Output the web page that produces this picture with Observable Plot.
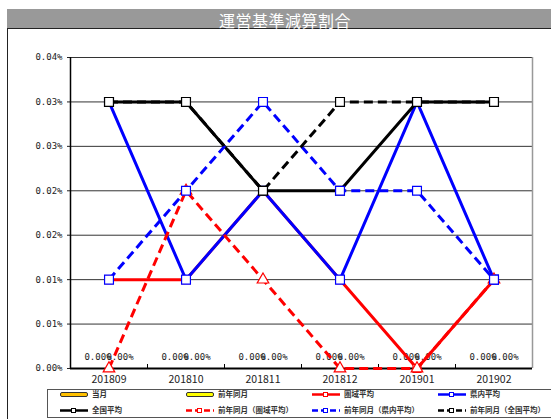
<!DOCTYPE html>
<html><head><meta charset="utf-8">
<script src="https://cdn.jsdelivr.net/npm/d3@7"></script>
<script src="https://cdn.jsdelivr.net/npm/@observablehq/plot@0.6"></script>
<style>
body{margin:0;background:#fff;}
#wrap{position:relative;width:551px;height:419px;overflow:hidden;background:#fff;font-family:"Noto Sans CJK JP",sans-serif;}
#titlebar{position:absolute;left:7px;top:9px;width:560px;height:19px;background:#999;}
#title{position:absolute;left:0;width:570px;top:11px;text-align:center;color:#fff;font-size:16px;letter-spacing:0.5px;line-height:18px;z-index:3;}
#frame{position:absolute;left:7px;top:28px;width:600px;height:420px;border:1px solid #222;box-sizing:border-box;}
#chart{position:absolute;left:0;top:40px;}
#legend{position:absolute;left:47px;top:389px;width:560px;height:29px;border:1.5px solid #555;background:#fff;box-sizing:border-box;z-index:2;}
.item{position:absolute;height:12px;z-index:4;}
.item svg{position:absolute;left:0;top:1px;}
.item span{position:absolute;top:-1px;font-size:7.5px;font-weight:bold;color:#333;white-space:nowrap;line-height:12px;}
</style>
</head><body>
<div id="wrap">
  <div id="titlebar"></div>
  <div id="frame"></div>
  <div id="title"></div>
  <div id="chart"></div>
  <div id="legend"></div>
</div>
<script>
// ---- data ----
const chartTitle = "運営基準減算割合";
const categories = ["201809", "201810", "201811", "201812", "201901", "201902"];
// values in percent units (0.03 = 0.03%)
const touGetsu        = [0, 0, 0, 0, 0, 0];            // 当月 (bars)
const zenenDougetsu   = [0, 0, 0, 0, 0, 0];            // 前年同月 (bars)
const kenikiAvg       = [0.01, 0.01, 0.02, 0.01, 0, 0.01];   // 圏域平均
const kennaiAvg       = [0.03, 0.01, 0.02, 0.01, 0.03, 0.01]; // 県内平均
const zenkokuAvg      = [0.03, 0.03, 0.02, 0.02, 0.03, 0.03]; // 全国平均
const prevKenikiAvg   = [0, 0.02, 0.01, 0, 0, 0.01];     // 前年同月(圏域平均)
const prevKennaiAvg   = [0.01, 0.02, 0.03, 0.02, 0.02, 0.01]; // 前年同月(県内平均)
const prevZenkokuAvg  = [0.03, 0.03, 0.02, 0.03, 0.03, 0.03]; // 前年同月(全国平均)
const yTicks      = [0, 0.005, 0.01, 0.015, 0.02, 0.025, 0.03, 0.035];
const yTickLabels = ["0.00%", "0.01%", "0.01%", "0.02%", "0.02%", "0.03%", "0.03%", "0.04%"];
const barLabels = ["0.00%", "0.00%", "0.00%", "0.00%", "0.00%", "0.00%"];

const legendItems = [
  {name: "当月", kind: "bar", color: "#FFC000"},
  {name: "前年同月", kind: "bar", color: "#FFFF00"},
  {name: "圏域平均", kind: "line", color: "#FF0000", dash: null},
  {name: "県内平均", kind: "line", color: "#0000FF", dash: null},
  {name: "全国平均", kind: "line", color: "#000000", dash: null},
  {name: "前年同月（圏域平均）", kind: "line", color: "#FF0000", dash: "6,3"},
  {name: "前年同月（県内平均）", kind: "line", color: "#0000FF", dash: "6,3"},
  {name: "前年同月（全国平均）", kind: "line", color: "#000000", dash: "6,3"}
];

document.getElementById("title").textContent = chartTitle;

const rows = arr => arr.map((v, i) => ({i, v}));
const idx = categories.map((c, i) => i);
const bounds = [-0.5, ...idx.map(i => i + 0.5)];

function series(arr, color, dash, symbol, r) {
  const d = rows(arr);
  return [
    Plot.line(d, {x: "i", y: "v", stroke: color, strokeWidth: 3, strokeDasharray: dash, strokeLinejoin: "miter", strokeLinecap: "butt"}),
    Plot.dot(d, {x: "i", y: "v", symbol, r, fill: "white", stroke: color, strokeWidth: 1.2})
  ];
}

const chart = Plot.plot({
  width: 551,
  height: 350,
  marginLeft: 70,
  marginRight: 19,
  marginTop: 17,
  marginBottom: 22,
  style: {fontFamily: "'DejaVu Sans Mono', monospace", fontSize: "9px", color: "#222", background: "transparent"},
  x: {domain: [-0.5, 5.5], axis: null, label: null},
  y: {domain: [0, 0.035], axis: null, label: null},
  marks: [
    Plot.ruleY(yTicks, {stroke: "#333", strokeWidth: 1}),
    Plot.ruleX([5.5], {stroke: "#999", strokeWidth: 1.5}),
    Plot.axisY({ticks: yTicks, label: null, tickFormat: (d) => yTickLabels[yTicks.indexOf(d)], tickSize: 3, tickPadding: 5, fontFamily: "'DejaVu Sans Mono', monospace", fontSize: 9, letterSpacing: -0.3}),
    Plot.axisX({ticks: idx, label: null, tickFormat: i => categories[i], tickSize: 0, tickPadding: 7, fontFamily: "'Noto Sans CJK JP', sans-serif", fontSize: 10.5}),
    Plot.axisX({ticks: bounds.slice(1, -1), label: null, tickFormat: () => "", tickSize: -4, stroke: "#000"}),
    Plot.ruleX([-0.5], {stroke: "#000", strokeWidth: 1.5}),
    Plot.ruleY([0], {stroke: "#000", strokeWidth: 2}),
    Plot.text(rows(touGetsu), {x: "i", y: "v", text: (d) => barLabels[d.i], dx: -11, dy: -11, fill: "#222", fontSize: 9, letterSpacing: -0.3}),
    Plot.text(rows(zenenDougetsu), {x: "i", y: "v", text: (d) => barLabels[d.i], dx: 11, dy: -11, fill: "#222", fontSize: 9, letterSpacing: -0.3}),
    ...series(kenikiAvg, "#FF0000", null, "square", 4.5),
    ...series(kennaiAvg, "#0000FF", null, "square", 5),
    ...series(zenkokuAvg, "#000000", null, "square", 5),
    ...series(prevKenikiAvg, "#FF0000", "9,5", "triangle", 4.3),
    ...series(prevKennaiAvg, "#0000FF", "9,5", "square", 5),
    ...series(prevZenkokuAvg, "#000000", "9,5", "square", 5)
  ]
});
document.getElementById("chart").appendChild(chart);

// ---- legend ----
const colX = [60, 186, 312, 438];
const rowY = [389, 405];
const wrap = document.getElementById("wrap");
legendItems.forEach((it, k) => {
  const div = document.createElement("div");
  div.className = "item";
  div.style.left = colX[k % 4] + "px";
  div.style.top = rowY[Math.floor(k / 4)] + "px";
  let sw;
  if (it.kind === "bar") {
    sw = `<svg width="28" height="10"><rect x="0.5" y="2.5" width="27" height="4" rx="1.5" fill="${it.color}" stroke="#333" stroke-width="1"/></svg>`;
  } else {
    const dash = it.dash ? `stroke-dasharray="${it.dash}"` : "";
    sw = `<svg width="28" height="10"><line x1="0" y1="4.5" x2="28" y2="4.5" stroke="${it.color}" stroke-width="2.5" ${dash}/>` +
         `<rect x="11.5" y="2.5" width="4" height="4" fill="white" stroke="${it.color}" stroke-width="1"/></svg>`;
  }
  div.innerHTML = sw + `<span style="left:32px">${it.name}</span>`;
  wrap.appendChild(div);
});
</script>
</body></html>
